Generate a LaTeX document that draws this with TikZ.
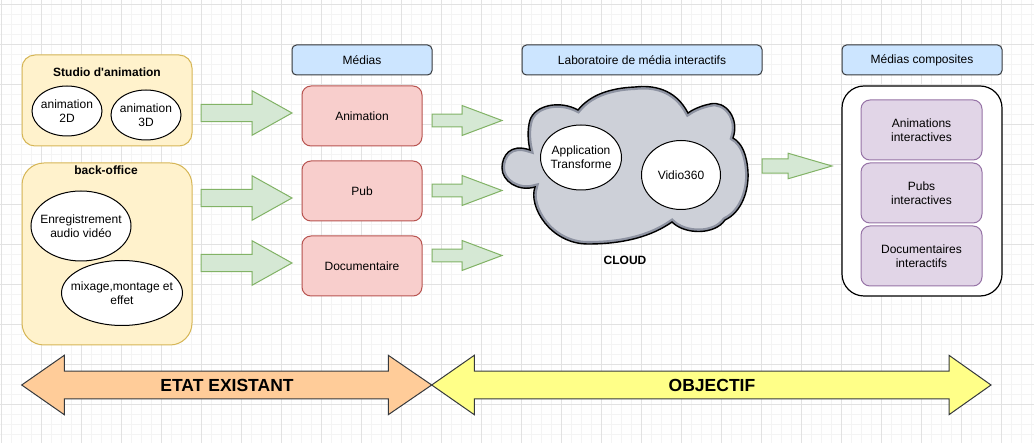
\documentclass[tikz,border=0pt]{standalone}
\usepackage{fontspec}
\setmainfont{Liberation Sans}
\usetikzlibrary{shapes.geometric}
\definecolor{gfill}{HTML}{D5E8D4}
\definecolor{gline}{HTML}{82B366}
\definecolor{hfill}{HTML}{CCE5FF}
\definecolor{dline}{HTML}{36393D}
\definecolor{rfill}{HTML}{F8CECC}
\definecolor{rline}{HTML}{B85450}
\definecolor{yfill}{HTML}{FFF2CC}
\definecolor{yline}{HTML}{D6B656}
\definecolor{pfill}{HTML}{E1D5E7}
\definecolor{pline}{HTML}{9673A6}
\definecolor{ofill}{HTML}{FFCC99}
\definecolor{lfill}{HTML}{FFFF88}
\definecolor{cfill}{HTML}{CDD0D8}
\definecolor{crim}{HTML}{8E93A2}
\definecolor{gmajor}{HTML}{E2E2E2}
\definecolor{gminor}{HTML}{F4F4F4}
% x1, xback, xtip, yc, shaft half, head half
\newcommand{\blockarr}[6]{%
  \path[blockarrow] (#1,#4-#5) -- (#2,#4-#5) -- (#2,#4-#6) -- (#3,#4) -- (#2,#4+#6) -- (#2,#4+#5) -- (#1,#4+#5) -- cycle;}
% left tip, left back, right back, right tip, yc, shaft half, head half, style
\newcommand{\dblarr}[8]{%
  \path[#8] (#1,#5) -- (#2,#5-#7) -- (#2,#5-#6) -- (#3,#5-#6) -- (#3,#5-#7) -- (#4,#5) -- (#3,#5+#7) -- (#3,#5+#6) -- (#2,#5+#6) -- (#2,#5+#7) -- cycle;}
\newcommand{\cloudshape}[1]{%
  \path[#1] (530,150) .. controls (510,143) and (502,156) .. (502,168)
    .. controls (502,181) and (518,192) .. (535,187)
    .. controls (528,206) and (550,244) .. (588,244)
    .. controls (625,244) and (652,236) .. (672,222)
    .. controls (685,235) and (715,235) .. (725,220)
    .. controls (742,212) and (749,190) .. (748,172)
    .. controls (747,155) and (742,143) .. (733,138)
    .. controls (740,118) and (725,100) .. (710,104)
    .. controls (700,106) and (692,110) .. (688,113)
    .. controls (675,88) and (652,85) .. (635,87)
    .. controls (610,88) and (590,95) .. (578,110)
    .. controls (560,100) and (535,105) .. (530,120)
    .. controls (527,130) and (528,142) .. (530,150) -- cycle;}
\begin{document}
\begin{tikzpicture}[x=1pt,y=-1pt,
  every node/.style={font=\fontsize{12}{14.4}\selectfont, inner sep=0pt, outer sep=0pt, align=center},
  bold/.style={font=\bfseries\fontsize{12}{14.4}\selectfont},
  big/.style={font=\bfseries\fontsize{17.5}{20}\selectfont},
  ybox/.style={draw=yline, fill=yfill, line width=1pt},
  hbox/.style={draw=dline, fill=hfill, line width=1pt, rounded corners=4.5, minimum height=30},
  rbox/.style={draw=rline, fill=rfill, line width=1pt, rounded corners=9, minimum width=120, minimum height=60},
  pbox/.style={draw=pline, fill=pfill, line width=1pt, rounded corners=9, minimum width=121, minimum height=60},
  ell/.style={ellipse, draw=black, fill=white, line width=1pt},
  blockarrow/.style={draw=gline, fill=gfill, line width=1pt},
]
\useasboundingbox (0,0) rectangle (1034,443);
\fill[white] (0,0) rectangle (1034,443);
% grid
\foreach \i in {0,...,103} {\draw[gminor, line width=1pt] (1.7+10*\i,0) -- (1.7+10*\i,443);}
\foreach \i in {0,...,44} {\draw[gminor, line width=1pt] (0,5+10*\i) -- (1034,5+10*\i);}
\foreach \i in {0,...,25} {\draw[gmajor, line width=1pt] (1.7+40*\i,0) -- (1.7+40*\i,443);}
\foreach \i in {0,...,11} {\draw[gmajor, line width=1pt] (0,5+40*\i) -- (1034,5+40*\i);}

% left containers
\node[ybox, rounded corners=13, minimum width=170, minimum height=91] (studio) at (107,100.5) {};
\node[bold] (studiot) at (107,72.7) {Studio d\textquotesingle animation};
\node[ell, minimum width=70, minimum height=50] (a2d) at (67,111) {};
\node (a2dt) at (a2d) {animation\\2D};
\node[ell, minimum width=70, minimum height=50] (a3d) at (146,115) {};
\node (a3dt) at (a3d) {animation\\3D};
\node[ybox, rounded corners=22, minimum width=170, minimum height=182] (back) at (107,254) {};
\node[bold] (backt) at (106,170.7) {back-office};
\node[ell, minimum width=100, minimum height=70] (enr) at (81,226) {};
\node (enrt) at (enr) {Enregistrement\\audio vidéo};
\node[ell, minimum width=121, minimum height=65] (mix) at (122,293) {};
\node (mixt) at (mix) {mixage,montage et\\effet};

% arrows left
\blockarr{201}{252}{292}{113}{8.7}{22.3}
\blockarr{201}{252}{292}{198}{8.7}{22.3}
\blockarr{201}{252}{292}{263}{8.7}{22.3}

% medias
\node[hbox, minimum width=140] (medias) at (362,60) {Médias};
\node[rbox] (anim) at (362,116) {Animation};
\node[rbox] (pub) at (362,191) {Pub};
\node[rbox] (doc) at (362,266) {Documentaire};

% arrows middle
\blockarr{432}{462}{502}{120.5}{6.3}{15}
\blockarr{432}{462}{502}{190.5}{6.3}{15}
\blockarr{432}{462}{502}{255.5}{6.3}{15}

% lab
\node[hbox, minimum width=240] (lab) at (642,60) {Laboratoire de média interactifs};
\cloudshape{fill=cfill}
\begin{scope}
\cloudshape{clip}
\cloudshape{draw=crim, line width=6pt}
\end{scope}
\cloudshape{draw=black, line width=1.4pt}
\coordinate (cloud) at (625,165);
\node[ell, minimum width=81, minimum height=65] (app) at (581,157.5) {};
\node (appt) at (app) {Application\\Transforme};
\node[ell, minimum width=79, minimum height=69] (vid) at (681,175) {};
\node (vidt) at (vid) {Vidio360};
\node[bold] (cloudt) at (625,260.7) {CLOUD};

% arrow right
\blockarr{762}{788}{832}{166}{7.2}{12.8}

% composites
\node[hbox, minimum width=160] (comp) at (922,60) {Médias composites};
\node[draw=black, fill=white, line width=1.2pt, rounded corners=22, minimum width=160, minimum height=210] (outer) at (922,191) {};
\node[pbox] (p1) at (921.5,130) {Animations\\interactives};
\node[pbox] (p2) at (921.5,193) {Pubs\\interactives};
\node[pbox] (p3) at (921.5,256) {Documentaires\\interactifs};

% bottom double arrows
\dblarr{21.7}{64.3}{388.3}{431.7}{385}{13.8}{29.7}{draw=dline, fill=ofill, line width=1pt}
\dblarr{431.7}{474.3}{949}{991}{385}{13.8}{29.7}{draw=dline, fill=lfill, line width=1pt}
\node[big] (etat) at (227,385) {ETAT EXISTANT};
\node[big] (obj) at (712,385) {OBJECTIF};
\end{tikzpicture}
\end{document}
